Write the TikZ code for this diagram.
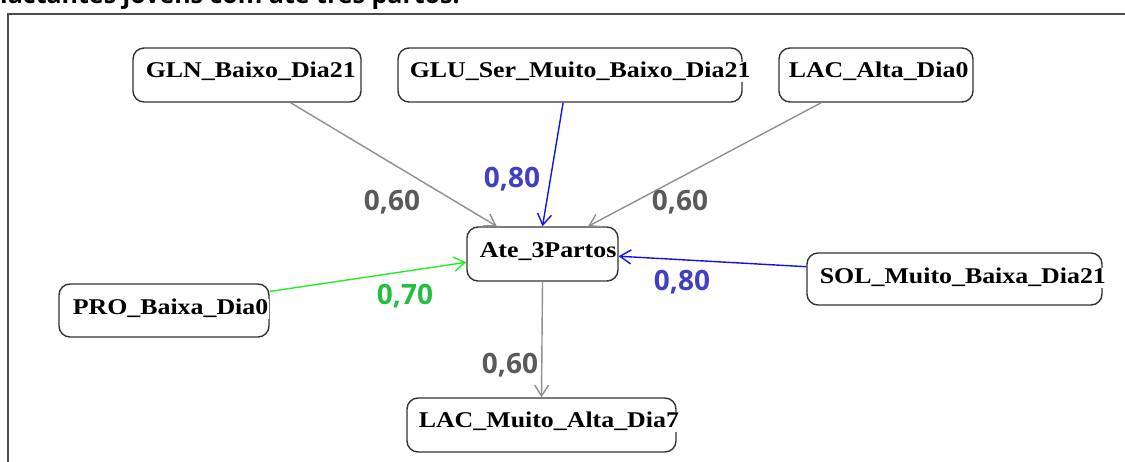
\documentclass[tikz,border=0pt]{standalone}
\usepackage{fontspec}
\usetikzlibrary{arrows.meta,calc}
\newfontfamily\nodefont[FakeStretch=1.15]{Liberation Serif}
\newfontfamily\labfont{Open Sans}
\definecolor{edgegray}{HTML}{909090}
\definecolor{edgeblue}{HTML}{1010F0}
\definecolor{edgegreen}{HTML}{22EE22}
\definecolor{labgray}{HTML}{5A5A5A}
\definecolor{labblue}{HTML}{4040C0}
\definecolor{labgreen}{HTML}{22C040}
\definecolor{boxline}{HTML}{333333}
\tikzset{
  box/.style={draw=boxline, line width=1.4pt, rounded corners=11pt, fill=white, inner sep=0pt},
  boxtext/.style={anchor=base west, inner sep=0.6pt, fill=white, text=black,
    font=\nodefont\bfseries\fontsize{22.5}{24}\selectfont},
  conn/.style={line width=1.4pt, -{Straight Barb[length=11pt,width=14pt,line width=1.4pt]}},
  gconn/.style={conn, draw=edgegray},
  bconn/.style={conn, draw=edgeblue},
  grconn/.style={conn, draw=edgegreen},
  wlabel/.style={font=\labfont\bfseries\fontsize{28}{30}\selectfont, inner sep=0pt},
}
\begin{document}
\begin{tikzpicture}[x=1pt,y=-1pt]
\useasboundingbox (0,0) rectangle (1125,462);
\node[anchor=base west, inner sep=0pt, font=\labfont\bfseries\fontsize{25}{27}\selectfont] (caption) at (0,4) {lactantes jovens com até três partos.};
\draw[line width=1.3pt, black!70] (8,470) -- (8,14) -- (1130,14);

\node[box, minimum width=228pt, minimum height=54pt] (gln) at (247,75) {};
\node[box, minimum width=344pt, minimum height=54pt] (glu) at (570,75) {};
\node[box, minimum width=194pt, minimum height=54pt] (laca) at (876,75) {};
\node[box, minimum width=151pt, minimum height=54pt] (ate) at (542.5,254) {};
\node[box, minimum width=210pt, minimum height=53pt] (pro) at (164,310.5) {};
\node[box, minimum width=295pt, minimum height=52pt] (sol) at (954.5,279) {};
\node[box, minimum width=269pt, minimum height=54pt] (lacm) at (541.5,425) {};

\node[boxtext] (glnt) at (145,78) {GLN\_Baixo\_Dia21};
\node[boxtext] (glut) at (409,78) {GLU\_Ser\_Muito\_Baixo\_Dia21};
\node[boxtext] (lacat) at (788,78) {LAC\_Alta\_Dia0};
\node[boxtext] (atet) at (479,258) {Ate\_3Partos};
\node[boxtext] (prot) at (72,315) {PRO\_Baixa\_Dia0};
\node[boxtext] (solt) at (819,284) {SOL\_Muito\_Baixa\_Dia21};
\node[boxtext] (lacmt) at (418,428) {LAC\_Muito\_Alta\_Dia7};

\draw[gconn] ($(gln.south west)!0.69!(gln.south east)$) -- ($(ate.north west)!0.2!(ate.north east)$);
\draw[bconn] ($(glu.south west)!0.48!(glu.south east)$) -- ($(ate.north west)!0.5!(ate.north east)$);
\draw[gconn] ($(laca.south west)!0.22!(laca.south east)$) -- ($(ate.north west)!0.8!(ate.north east)$);
\draw[grconn] ($(pro.north east)!0.15!(pro.south east)$) -- ($(ate.north west)!0.65!(ate.south west)$);
\draw[bconn] ($(sol.north west)!0.27!(sol.south west)$) -- ($(ate.north east)!0.54!(ate.south east)$);
\draw[gconn] (ate.south) -- (lacm.north);

\node[wlabel, text=labgray] (l1) at (392,202) {0,60};
\node[wlabel, text=labblue] (l2) at (512,179) {0,80};
\node[wlabel, text=labgray] (l3) at (680,202) {0,60};
\node[wlabel, text=labgreen] (l4) at (405,296) {0,70};
\node[wlabel, text=labblue] (l5) at (682,282) {0,80};
\node[wlabel, text=labgray] (l6) at (510,365) {0,60};
\end{tikzpicture}
\end{document}
